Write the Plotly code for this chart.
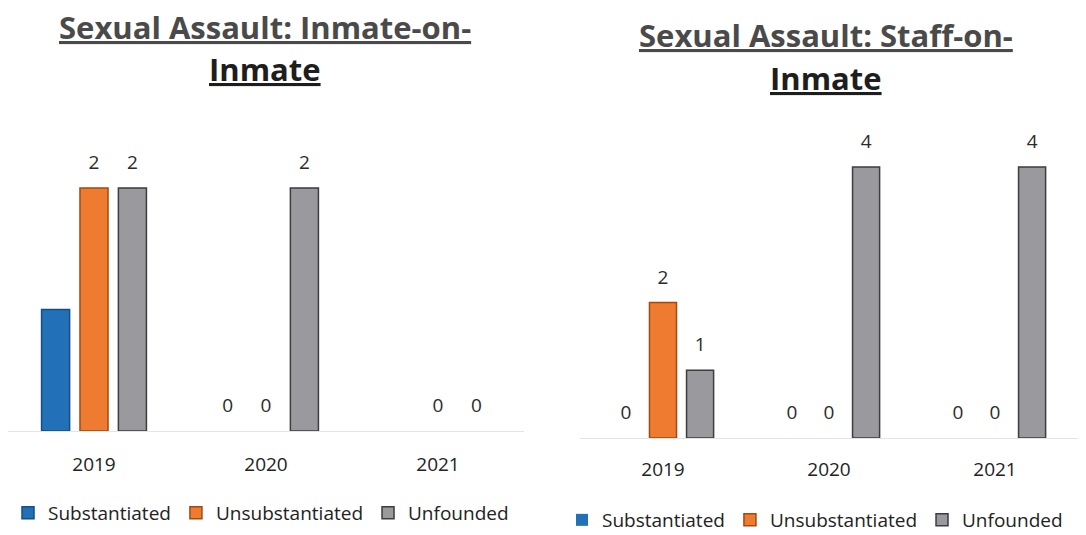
import plotly.graph_objects as go

years = ["2019", "2020", "2021"]
series = ["Substantiated", "Unsubstantiated", "Unfounded"]

# Left chart: Inmate-on-Inmate
ioi_sub = [1, 0, 0]
ioi_uns = [2, 0, 0]
ioi_unf = [2, 2, 0]
ioi_sub_lbl = ["", "0", ""]
ioi_uns_lbl = ["2", "0", "0"]
ioi_unf_lbl = ["2", "2", "0"]

# Right chart: Staff-on-Inmate
soi_sub = [0, 0, 0]
soi_uns = [2, 0, 0]
soi_unf = [1, 4, 4]
soi_sub_lbl = ["0", "0", "0"]
soi_uns_lbl = ["2", "0", "0"]
soi_unf_lbl = ["1", "4", "4"]

title_left = ["Sexual Assault: Inmate-on-", "Inmate"]
title_right = ["Sexual Assault: Staff-on-", "Inmate"]

fills = ["#2271B8", "#EE7B30", "#9A9A9E"]
edges = ["#134F85", "#A04A12", "#3D3D40"]
groups = ["sub", "uns", "unf"]
FONT = "Open Sans"

fig = go.Figure()

def add_chart(vals, lbls, xa, ya, legend):
    for i, (v, name) in enumerate(zip(vals, series)):
        fig.add_trace(go.Bar(
            x=years, y=v, name=name, xaxis=xa, yaxis=ya,
            offsetgroup=groups[i], legend=legend,
            marker=dict(color=fills[i],
                        line=dict(color=edges[i], width=[1.5 if val > 0 else 0 for val in v])),
            hoverinfo="skip",
        ))
    for i, (v, t) in enumerate(zip(vals, lbls)):
        fig.add_trace(go.Scatter(
            x=years, y=v, text=t, mode="markers+text", xaxis=xa, yaxis=ya,
            offsetgroup=groups[i], showlegend=False, cliponaxis=False,
            textposition="top center",
            marker=dict(size=21, color="rgba(0,0,0,0)"),
            textfont=dict(family=FONT, size=19, color="#2b2b2b"),
            hoverinfo="skip",
        ))

add_chart([ioi_sub, ioi_uns, ioi_unf], [ioi_sub_lbl, ioi_uns_lbl, ioi_unf_lbl], "x", "y", "legend")
add_chart([soi_sub, soi_uns, soi_unf], [soi_sub_lbl, soi_uns_lbl, soi_unf_lbl], "x2", "y2", "legend2")

H = 535.0
W = 1086.0
axis_common = dict(showgrid=False, zeroline=False, ticks="", fixedrange=True)

fig.update_layout(
    width=1086, height=535,
    margin=dict(l=0, r=0, t=0, b=0, autoexpand=False),
    paper_bgcolor="white", plot_bgcolor="white",
    barmode="group", bargap=0.33, bargroupgap=0.27,
    scattermode="group", scattergap=0.33,
    font=dict(family=FONT, color="#222222"),
    xaxis=dict(domain=[8 / W, 524 / W], anchor="y", showline=True, linecolor="#e4e4e4",
               tickfont=dict(size=19, color="#222222", family=FONT), ticklabelstandoff=16, **axis_common),
    yaxis=dict(domain=[1 - 431 / H, 1 - 120 / H], anchor="x", range=[0, 311 / 121.5],
               showticklabels=False, **axis_common),
    xaxis2=dict(domain=[580 / W, 1078 / W], anchor="y2", showline=True, linecolor="#e4e4e4",
                tickfont=dict(size=19, color="#222222", family=FONT), ticklabelstandoff=14, **axis_common),
    yaxis2=dict(domain=[1 - 438 / H, 1 - 130 / H], anchor="x2", range=[0, 308 / 67.75],
                showticklabels=False, **axis_common),
    legend=dict(orientation="h", x=8 / W, y=1 - 513 / H, xanchor="left", yanchor="middle",
                font=dict(size=19, color="#222222", family=FONT), bgcolor="rgba(0,0,0,0)",
                itemwidth=30, tracegroupgap=0),
    legend2=dict(orientation="h", x=562 / W, y=1 - 520 / H, xanchor="left", yanchor="middle",
                 font=dict(size=19, color="#222222", family=FONT), bgcolor="rgba(0,0,0,0)",
                 itemwidth=30, tracegroupgap=0),
)

def add_title(lines, xc, ys, colors):
    for line, y, c in zip(lines, ys, colors):
        fig.add_annotation(
            text="<b><u>" + line + "</u></b>", x=xc / W, y=1 - y / H,
            xref="paper", yref="paper", xanchor="center", yanchor="middle",
            showarrow=False, font=dict(family=FONT, size=31, color=c),
        )

add_title(title_left, 265, [27, 69], ["#4a4a4a", "#1e1e1e"])
add_title(title_right, 826, [35, 78], ["#4a4a4a", "#1e1e1e"])

fig.write_html("out.html", post_script="document.body.style.margin='0px';",
               config={"displayModeBar": False})
